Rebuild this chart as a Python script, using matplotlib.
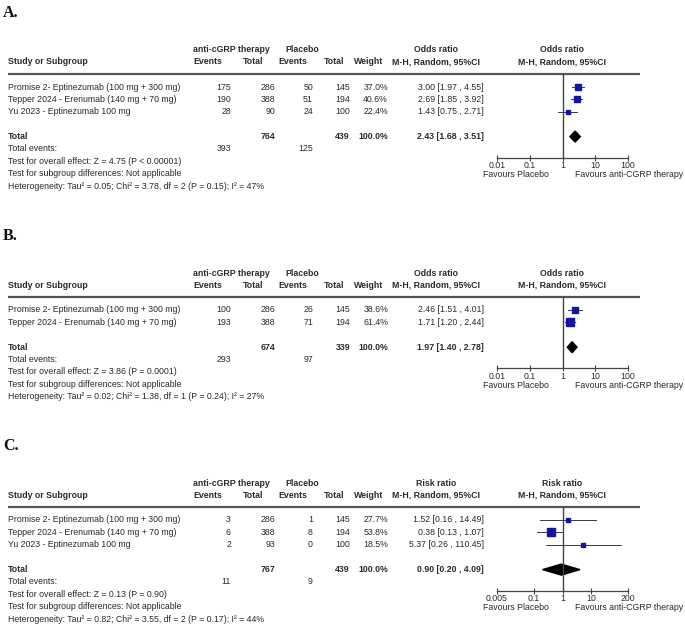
import numpy as np
import matplotlib.pyplot as plt
from matplotlib.patches import Polygon

# ---- dados ----
studies_a = ["Promise 2- Eptinezumab (100 mg + 300 mg)",
             "Tepper 2024 - Erenumab (140 mg + 70 mg)",
             "Yu 2023 - Eptinezumab 100 mg"]
ev_trt_a = [175, 190, 28]
n_trt_a = [286, 388, 90]
ev_pla_a = [50, 51, 24]
n_pla_a = [145, 194, 100]
weight_a = [37.0, 40.6, 22.4]
est_a = [3.00, 2.69, 1.43]
low_a = [1.97, 1.85, 0.75]
high_a = [4.55, 3.92, 2.71]
total_a = [2.43, 1.68, 3.51]
n_total_a = [764, 439]
events_total_a = [393, 125]
stats_a = ["Test for overall effect: Z = 4.75 (P < 0.00001)",
           "Test for subgroup differences: Not applicable",
           "Heterogeneity: Tau² = 0.05; Chi² = 3.78, df = 2 (P = 0.15); I² = 47%"]

studies_b = ["Promise 2- Eptinezumab (100 mg + 300 mg)",
             "Tepper 2024 - Erenumab (140 mg + 70 mg)"]
ev_trt_b = [100, 193]
n_trt_b = [286, 388]
ev_pla_b = [26, 71]
n_pla_b = [145, 194]
weight_b = [38.6, 61.4]
est_b = [2.46, 1.71]
low_b = [1.51, 1.20]
high_b = [4.01, 2.44]
total_b = [1.97, 1.40, 2.78]
n_total_b = [674, 339]
events_total_b = [293, 97]
stats_b = ["Test for overall effect: Z = 3.86 (P = 0.0001)",
           "Test for subgroup differences: Not applicable",
           "Heterogeneity: Tau² = 0.02; Chi² = 1.38, df = 1 (P = 0.24); I² = 27%"]

studies_c = ["Promise 2- Eptinezumab (100 mg + 300 mg)",
             "Tepper 2024 - Erenumab (140 mg + 70 mg)",
             "Yu 2023 - Eptinezumab 100 mg"]
ev_trt_c = [3, 6, 2]
n_trt_c = [286, 388, 93]
ev_pla_c = [1, 8, 0]
n_pla_c = [145, 194, 100]
weight_c = [27.7, 53.8, 18.5]
est_c = [1.52, 0.38, 5.37]
low_c = [0.16, 0.13, 0.26]
high_c = [14.49, 1.07, 110.45]
total_c = [0.90, 0.20, 4.09]
n_total_c = [767, 439]
events_total_c = [11, 9]
stats_c = ["Test for overall effect: Z = 0.13 (P = 0.90)",
           "Test for subgroup differences: Not applicable",
           "Heterogeneity: Tau² = 0.82; Chi² = 3.55, df = 2 (P = 0.17); I² = 44%"]

ticks_ab = [0.01, 0.1, 1, 10, 100]
tick_labels_ab = ["0.01", "0.1", "1", "10", "100"]
ticks_c = [0.005, 0.1, 1, 10, 200]
tick_labels_c = ["0.005", "0.1", "1", "10", "200"]

W, H = 685, 628
FS = 6.3
TXT = "#2a2a2a"
plt.rcParams['font.family'] = ['Liberation Sans', 'DejaVu Sans']

fig = plt.figure(figsize=(W / 100, H / 100), dpi=100)
tab = fig.add_axes([0, 0, 1, 1])
tab.set_xlim(0, W)
tab.set_ylim(H, 0)
tab.axis('off')

PITCH = 12.4
X_EV1, X_N1, X_EV2, X_N2, X_W, X_CI = 231, 275, 313, 350, 388, 484
X_LINE = 562


def fmt_ci(v):
    return f"{v[0]:.2f} [{v[1]:.2f} , {v[2]:.2f}]"


def desenhar_painel(base, letra, medida, studies, ev_t, n_t, ev_p, n_p, peso,
                    est, low, high, total, n_total, ev_total, stats, ticks, tick_labels):
    """Desenha um painel (tabela + forest plot)."""
    tab.text(3, base - 61, letra, fontsize=11.5, fontweight='bold',
             family='Liberation Serif', va='center', ha='left', color='#111111')
    # cabeçalho
    h1, h2 = base - 24, base - 12
    kw = dict(fontsize=FS, fontweight='bold', color=TXT, va='center')
    tab.text(231, h1, "anti-cGRP therapy", ha='center', **kw)
    tab.text(302, h1, "Placebo", ha='center', **kw)
    tab.text(436, h1, medida, ha='center', **kw)
    tab.text(X_LINE, h1, medida, ha='center', **kw)
    tab.text(8, h2, "Study or Subgroup", ha='left', **kw)
    tab.text(208, h2, "Events", ha='center', **kw)
    tab.text(253, h2, "Total", ha='center', **kw)
    tab.text(293, h2, "Events", ha='center', **kw)
    tab.text(334, h2, "Total", ha='center', **kw)
    tab.text(369, h2, "Weight", ha='center', **kw)
    tab.text(436, h2, "M-H, Random, 95%CI", ha='center', **kw)
    tab.text(X_LINE, h2, "M-H, Random, 95%CI", ha='center', **kw)
    tab.plot([8, 640], [base, base], color='#555555', lw=1.6, solid_capstyle='butt')

    n = len(studies)
    ys = [base + 13 + PITCH * i for i in range(n)]
    y_tot = base + 13 + PITCH * (n + 1)
    kr = dict(fontsize=FS, color=TXT, va='center')
    for i in range(n):
        tab.text(8, ys[i], studies[i], ha='left', **kr)
        tab.text(X_EV1, ys[i], str(ev_t[i]), ha='right', **kr)
        tab.text(X_N1, ys[i], str(n_t[i]), ha='right', **kr)
        tab.text(X_EV2, ys[i], str(ev_p[i]), ha='right', **kr)
        tab.text(X_N2, ys[i], str(n_p[i]), ha='right', **kr)
        tab.text(X_W, ys[i], f"{peso[i]:.1f}%", ha='right', **kr)
        tab.text(X_CI, ys[i], fmt_ci([est[i], low[i], high[i]]), ha='right', **kr)

    kb = dict(fontsize=FS, color=TXT, va='center', fontweight='bold')
    tab.text(8, y_tot, "Total", ha='left', **kb)
    tab.text(X_N1, y_tot, str(n_total[0]), ha='right', **kb)
    tab.text(X_N2, y_tot, str(n_total[1]), ha='right', **kb)
    tab.text(X_W, y_tot, "100.0%", ha='right', **kb)
    tab.text(X_CI, y_tot, fmt_ci(total), ha='right', **kb)
    y = y_tot + 12.3
    tab.text(8, y, "Total events:", ha='left', **kr)
    tab.text(X_EV1, y, str(ev_total[0]), ha='right', **kr)
    tab.text(X_EV2, y, str(ev_total[1]), ha='right', **kr)
    for s in stats:
        y += 12.4
        tab.text(8, y, s, ha='left', **kr)

    # forest plot
    y_axis = y_tot + 21
    x0, x1 = 497, 628
    ax = fig.add_axes([x0 / W, 1 - y_axis / H, (x1 - x0) / W, (y_axis - base) / H])
    ax.set_xscale('log')
    ax.set_xlim(ticks[0], ticks[-1])
    ax.set_ylim(y_axis, base)
    ax.patch.set_visible(False)
    for sp in ['top', 'left', 'right']:
        ax.spines[sp].set_visible(False)
    ax.spines['bottom'].set_color('#444444')
    ax.spines['bottom'].set_linewidth(0.9)
    ax.set_yticks([])
    ax.set_xticks(ticks)
    ax.set_xticklabels(tick_labels)
    ax.minorticks_off()
    ax.tick_params(axis='x', direction='inout', length=4, width=0.8, color='#444444',
                   pad=0.5, labelsize=FS, labelcolor=TXT)
    ax.axvline(1, color='#444444', lw=1.0)
    for i in range(n):
        ax.plot([low[i], high[i]], [ys[i], ys[i]], color='#3a3a3a', lw=0.7)
        lado = (2.5 + 0.09 * peso[i]) * 0.72
        ax.plot(est[i], ys[i], marker='s', ms=lado, color='#1414a0', mec='#1414a0')
    dh = 5.5
    ax.add_patch(Polygon([(total[1], y_tot), (total[0], y_tot - dh),
                          (total[2], y_tot), (total[0], y_tot + dh)],
                         closed=True, color='black'))

    y_fav = y_axis + 17
    tab.text(549, y_fav, "Favours Placebo", ha='right', va='center', fontsize=FS, color=TXT)
    tab.text(575, y_fav, "Favours anti-CGRP therapy", ha='left', va='center', fontsize=FS, color=TXT)


desenhar_painel(74, "A.", "Odds ratio", studies_a, ev_trt_a, n_trt_a, ev_pla_a, n_pla_a,
                weight_a, est_a, low_a, high_a, total_a, n_total_a, events_total_a,
                stats_a, ticks_ab, tick_labels_ab)
desenhar_painel(297, "B.", "Odds ratio", studies_b, ev_trt_b, n_trt_b, ev_pla_b, n_pla_b,
                weight_b, est_b, low_b, high_b, total_b, n_total_b, events_total_b,
                stats_b, ticks_ab, tick_labels_ab)
desenhar_painel(507, "C.", "Risk ratio", studies_c, ev_trt_c, n_trt_c, ev_pla_c, n_pla_c,
                weight_c, est_c, low_c, high_c, total_c, n_total_c, events_total_c,
                stats_c, ticks_c, tick_labels_c)

fig.savefig("out.png", dpi=100)
